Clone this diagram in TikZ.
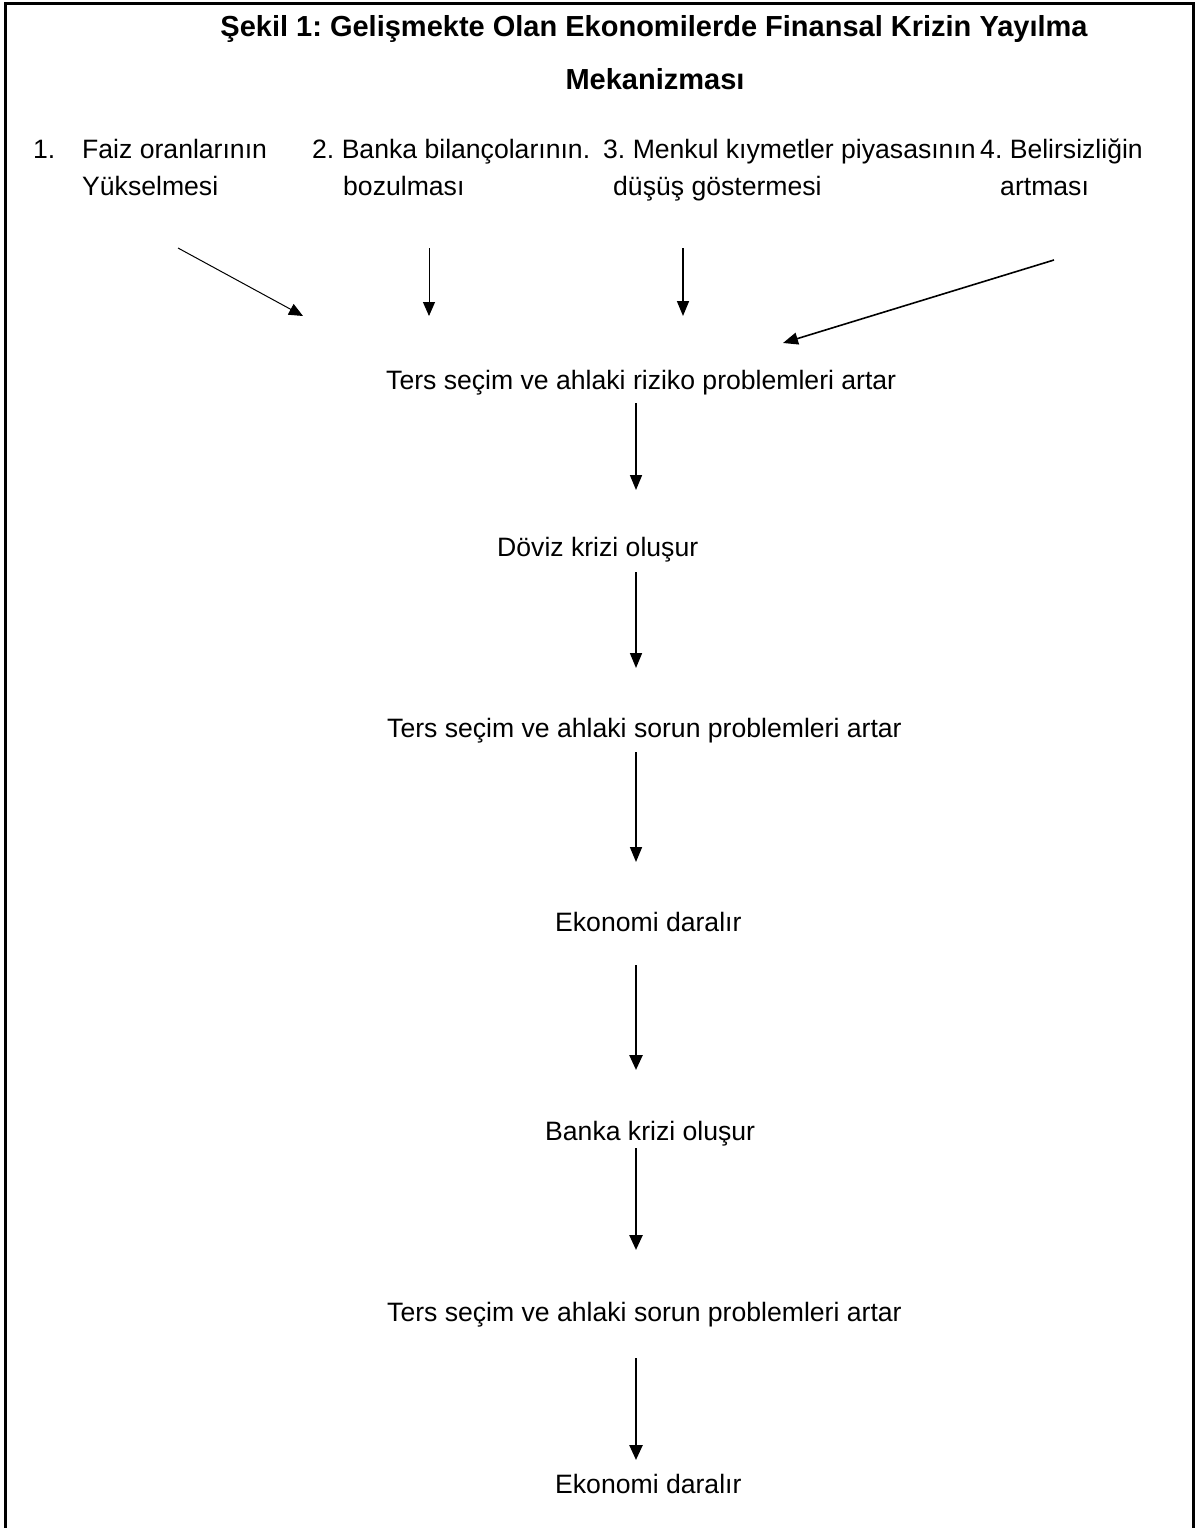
\documentclass[tikz,border=0pt]{standalone}
\usepackage{fontspec}
\setmainfont{Liberation Sans}
\frenchspacing
\usetikzlibrary{arrows.meta}
\begin{document}
\begin{tikzpicture}[x=1pt,y=-1pt,
  lbl/.style={inner sep=0pt, anchor=base west, font=\fontsize{26.6}{32}\selectfont},
  ttl/.style={inner sep=0pt, anchor=base, font=\fontsize{29}{34}\selectfont\bfseries},
  thinarr/.style={line width=1pt, -{Triangle[length=14pt,width=12pt]}},
  midarr/.style={line width=1.6pt, -{Triangle[length=15pt,width=12pt]}},
  boldarr/.style={line width=2.5pt, -{Triangle[length=15pt,width=13pt]}},
]
\useasboundingbox (0,0) rectangle (1198,1528);
\draw[line width=3pt] (5,1530) -- (5,4) -- (1193,4) -- (1193,1530);

% title
\node[ttl] (t1) at (654,37) {Şekil 1: Gelişmekte Olan Ekonomilerde Finansal Krizin Yayılma};
\node[ttl] (t2) at (655,89) {Mekanizması};

% causes
\node[lbl] (n1) at (33,158) {1.};
\node[lbl] (a1) at (82,158) {Faiz oranlarının};
\node[lbl] (a1b) at (82,195) {Yükselmesi};
\node[lbl] (a2) at (312,158) {2. Banka bilançolarının.};
\node[lbl] (a2b) at (343,195) {bozulması};
\node[lbl] (a3) at (603,158) {3. Menkul kıymetler piyasasının};
\node[lbl] (a3b) at (613,195) {düşüş göstermesi};
\node[lbl] (a4) at (980,158) {4. Belirsizliğin};
\node[lbl] (a4b) at (1000,195) {artması};

% chain
\node[lbl] (m1) at (386,389) {Ters seçim ve ahlaki riziko problemleri artar};
\node[lbl] (m2) at (497,556) {Döviz krizi oluşur};
\node[lbl] (m3) at (387,737) {Ters seçim ve ahlaki sorun problemleri artar};
\node[lbl] (m4) at (555,931) {Ekonomi daralır};
\node[lbl] (m5) at (545,1140) {Banka krizi oluşur};
\node[lbl] (m6) at (387,1321) {Ters seçim ve ahlaki sorun problemleri artar};
\node[lbl] (m7) at (555,1493) {Ekonomi daralır};

% arrow end points
\coordinate (s1) at (178,248); \coordinate (e1) at (303,316);
\coordinate (s2) at (429,248); \coordinate (e2) at (429,316);
\coordinate (s3) at (683,248); \coordinate (e3) at (683,316);
\coordinate (s4) at (1054,260); \coordinate (e4) at (783,343);
\coordinate (v1s) at (636,403); \coordinate (v1e) at (636,490);
\coordinate (v2s) at (636,572); \coordinate (v2e) at (636,668);
\coordinate (v3s) at (636,752); \coordinate (v3e) at (636,862);
\coordinate (v4s) at (636,965); \coordinate (v4e) at (636,1070);
\coordinate (v5s) at (636,1148); \coordinate (v5e) at (636,1250);
\coordinate (v6s) at (636,1358); \coordinate (v6e) at (636,1460);

\draw[thinarr] (s1) -- (e1);
\draw[thinarr] (s2) -- (e2);
\draw[midarr] (s3) -- (e3);
\draw[midarr] (s4) -- (e4);
\draw[midarr] (v1s) -- (v1e);
\draw[midarr] (v2s) -- (v2e);
\draw[midarr] (v3s) -- (v3e);
\draw[boldarr] (v4s) -- (v4e);
\draw[boldarr] (v5s) -- (v5e);
\draw[boldarr] (v6s) -- (v6e);
\end{tikzpicture}
\end{document}
